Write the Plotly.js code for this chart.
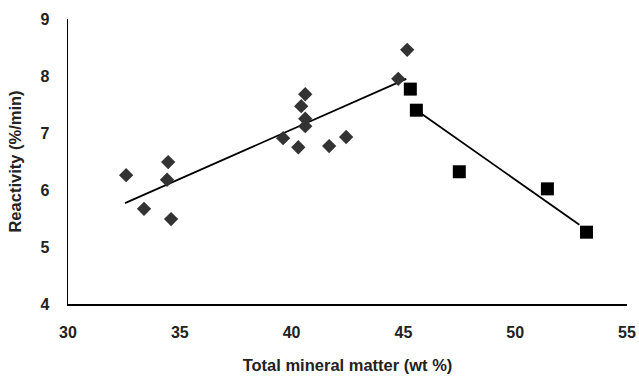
<!DOCTYPE html>
<html><head><meta charset="utf-8">
<script src="https://cdn.plot.ly/plotly-3.0.1.min.js"></script>
<style>html,body{margin:0;padding:0;background:#fff}#c{width:639px;height:376px}</style>
</head><body><div id="c"></div>
<script>
const diamondX = [32.60, 33.40, 34.48, 34.43, 34.61, 39.62, 40.30, 40.43, 40.61, 40.61, 40.61, 41.68, 42.44, 44.77, 45.17];
const diamondY = [6.26, 5.67, 6.49, 6.18, 5.49, 6.91, 6.75, 7.47, 7.68, 7.25, 7.12, 6.77, 6.93, 7.95, 8.46];
const squareX = [45.31, 45.58, 47.50, 51.44, 53.19];
const squareY = [7.77, 7.40, 6.32, 6.02, 5.26];
const trend1X = [32.55, 45.13];
const trend1Y = [5.77, 7.95];
const trend2X = [45.76, 52.87];
const trend2Y = [7.35, 5.39];
const xTicks = [30, 35, 40, 45, 50, 55];
const yTicks = [4, 5, 6, 7, 8, 9];

const font = {family: 'Liberation Sans', color: '#222'};
const data = [
  {x: trend1X, y: trend1Y, mode: 'lines', line: {color: '#000', width: 1.8}, hoverinfo: 'skip'},
  {x: trend2X, y: trend2Y, mode: 'lines', line: {color: '#000', width: 1.8}, hoverinfo: 'skip'},
  {x: diamondX, y: diamondY, mode: 'markers', marker: {symbol: 'diamond', size: 11, color: '#333333'}},
  {x: squareX, y: squareY, mode: 'markers', marker: {symbol: 'square', size: 13, color: '#000000'}}
];
const layout = {
  width: 639, height: 376,
  margin: {l: 68, r: 12, t: 19, b: 72},
  showlegend: false,
  paper_bgcolor: '#fff', plot_bgcolor: '#fff',
  xaxis: {
    range: [30, 55], tickvals: xTicks, ticktext: xTicks.map(String),
    showgrid: false, zeroline: false, showline: true, linecolor: '#000', linewidth: 1.5,
    ticks: '', ticklabelstandoff: 13,
    tickfont: Object.assign({size: 16, weight: 700}, font),
    title: {text: 'Total mineral matter (wt %)', font: Object.assign({size: 16.5, weight: 700}, font), standoff: 19}
  },
  yaxis: {
    range: [4, 9], tickvals: yTicks, ticktext: yTicks.map(String),
    showgrid: false, zeroline: false, showline: true, linecolor: '#000', linewidth: 1.5,
    ticks: '', ticklabelstandoff: 14,
    tickfont: Object.assign({size: 16, weight: 700}, font),
    title: {text: 'Reactivity (%/min)', font: Object.assign({size: 16.5, weight: 700}, font), standoff: 14}
  }
};
Plotly.newPlot('c', data, layout, {displayModeBar: false, staticPlot: true});
</script></body></html>
